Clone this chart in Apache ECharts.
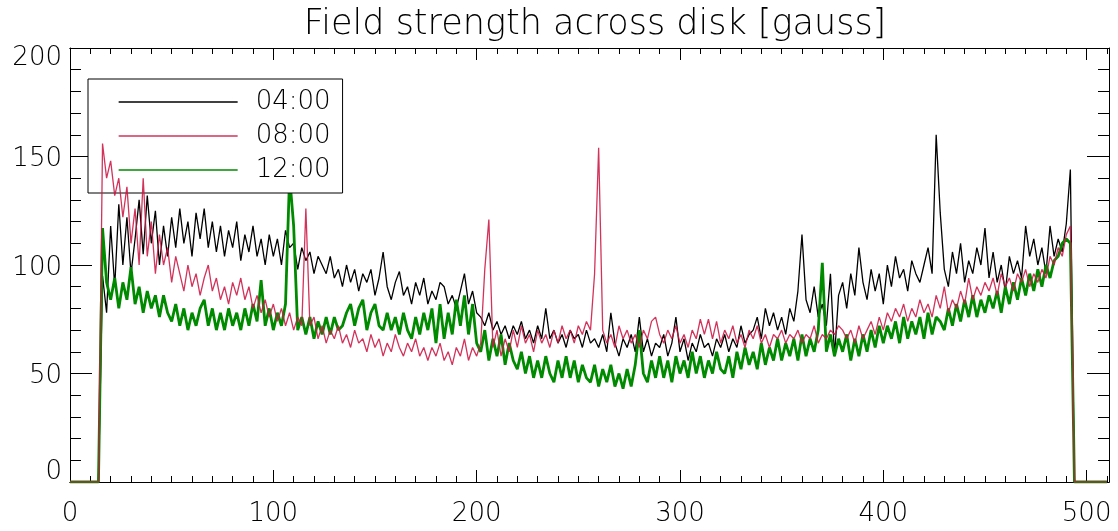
<!DOCTYPE html>
<html>
<head>
<meta charset="utf-8">
<script src="https://cdn.jsdelivr.net/npm/echarts@6/dist/echarts.min.js"></script>
<style>html,body{margin:0;padding:0;background:#fff;}#c{width:1118px;height:531px;}</style>
</head>
<body>
<div id="c"></div>
<script>
// x positions: pixel index, sampled every 2 units
const xStep = 2;
const seriesNames = ['04:00', '08:00', '12:00'];
const xTicks = [0, 100, 200, 300, 400, 500];
const yTicks = [0, 50, 100, 150, 200];

const black = [0,0,0,0,0,0,0,0,
95,78,118,90,128,100,122,96,112,130,
105,132,110,125,100,118,104,122,108,126,
110,120,104,124,112,126,108,120,106,118,
104,116,108,120,102,114,106,118,104,112,
100,114,104,112,100,116,108,110,98,108,
102,106,96,104,100,96,104,94,98,90,
100,92,98,88,96,92,98,86,94,106,
90,84,92,97,86,90,82,92,86,94,
82,88,84,92,90,82,86,80,88,96,
82,88,78,76,72,78,70,74,68,72,
66,72,68,74,66,70,64,72,66,80,
66,70,64,68,62,70,66,68,62,70,
64,66,62,68,60,78,64,58,66,62,
68,60,76,60,66,58,64,62,68,58,
64,76,60,66,56,64,60,68,62,64,
58,66,62,68,60,66,62,72,64,68,
70,76,66,80,72,78,70,76,68,80,
74,88,114,84,78,90,76,82,72,96,
58,86,92,80,96,86,108,92,84,98,
88,96,82,100,90,104,94,98,88,102,
96,92,100,108,96,160,124,98,90,106,
96,110,92,102,96,108,100,117,94,106,
92,100,88,104,96,102,94,118,104,112,
100,108,96,118,104,112,106,119,144,0,
0,0,0,0,0,0,0,0];

const red = [0,0,0,0,0,0,0,0,
156,140,148,132,140,122,136,110,126,100,
140,104,120,96,114,100,108,92,104,96,
88,100,90,96,86,94,100,88,94,84,
90,82,92,86,94,84,90,80,86,78,
84,76,82,74,80,72,78,70,76,72,
126,72,76,66,72,64,70,66,72,64,
68,62,70,64,66,60,68,62,66,58,
64,60,68,62,58,64,60,66,58,62,
56,62,58,64,56,60,54,62,58,66,
56,62,58,64,98,121,62,70,58,66,
60,70,62,72,64,68,60,70,64,68,
62,70,64,72,66,70,64,72,68,74,
70,96,154,70,64,68,62,72,66,70,
64,68,62,70,66,74,76,68,64,70,
66,72,64,68,62,70,66,75,68,75,
66,74,64,70,66,72,64,68,62,70,
66,72,64,68,62,68,66,70,64,68,
66,70,64,68,66,72,64,68,66,70,
68,72,70,66,70,64,72,66,70,74,
68,76,70,78,74,80,76,82,74,80,
76,84,78,82,76,86,80,90,78,84,
80,88,82,94,84,90,86,92,88,94,
86,96,90,94,88,96,92,98,90,96,
92,98,94,104,100,108,104,114,118,0,
0,0,0,0,0,0,0,0];

const green = [0,0,0,0,0,0,0,0,
117,92,84,94,80,92,84,99,82,90,
78,88,80,86,76,86,78,74,82,72,
80,70,78,72,80,84,72,80,70,78,
70,80,72,78,70,80,72,82,74,93,
72,80,70,78,72,82,141,118,70,76,
68,76,66,74,68,76,68,76,70,72,
78,82,72,80,84,70,78,82,72,70,
78,70,76,68,78,70,66,76,68,78,
70,80,64,82,66,78,68,84,72,86,
68,82,64,60,70,56,66,58,68,54,
64,56,52,60,50,58,48,56,48,58,
50,46,56,48,58,48,56,46,54,48,
46,54,44,52,46,54,44,50,43,52,
44,54,70,50,46,56,48,58,48,56,
46,58,50,56,48,60,50,58,48,56,
50,60,52,50,58,48,60,52,62,54,
60,52,64,54,62,56,66,56,64,58,
66,56,68,58,66,60,70,101,60,68,
58,66,60,68,56,66,58,68,60,70,
62,72,64,72,66,74,64,76,66,74,
68,76,66,78,68,76,74,70,80,72,
82,74,84,76,86,76,84,78,86,80,
88,78,90,82,92,84,94,86,96,88,
98,90,100,94,102,104,110,112,110,0,
0,0,0,0,0,0,0,0];

const FONT = 'DejaVu Sans';
const LBL = 26;
const toPairs = arr => arr.map((v, i) => [i * xStep, v]);

const chart = echarts.init(document.getElementById('c'), null, {renderer: 'canvas'});

function xAxisDef(pos, interval, tickLen, labels) {
  return {
    type: 'value', position: pos, min: 0, max: 511, interval: interval,
    axisLine: {show: true, onZero: false, lineStyle: {color: '#000', width: 1}},
    axisTick: {show: true, inside: true, length: tickLen, lineStyle: {color: '#000', width: 1}},
    axisLabel: labels ? {
      show: true, margin: 19, showMaxLabel: false,
      fontFamily: FONT, fontSize: LBL, fontWeight: 200, color: '#000',
      formatter: v => (xTicks.indexOf(v) >= 0 ? String(v) : '')
    } : {show: false},
    splitLine: {show: false}
  };
}

function yAxisDef(pos, labels) {
  const rs = {fontFamily: FONT, fontSize: LBL, fontWeight: 200, color: '#000'};
  return {
    type: 'value', position: pos, min: 0, max: 200, interval: 50,
    axisLine: {show: true, onZero: false, lineStyle: {color: '#000', width: 1}},
    axisTick: {show: true, inside: true, length: 22, lineStyle: {color: '#000', width: 1}},
    minorTick: {show: true, splitNumber: 5, length: 11, lineStyle: {color: '#000', width: 1}},
    axisLabel: labels ? {
      show: true, margin: 8,
      fontFamily: FONT, fontSize: LBL, fontWeight: 200, color: '#000',
      formatter: v => {
        if (yTicks.indexOf(v) < 0) return '';
        if (v === 200) return '{t|' + v + '}';
        if (v === 0) return '{b|' + v + '}';
        return '{m|' + v + '}';
      },
      rich: {
        t: Object.assign({padding: [20, 0, 0, 0]}, rs),
        b: Object.assign({padding: [0, 0, 20, 0]}, rs),
        m: Object.assign({padding: [6, 0, 0, 0]}, rs)
      }
    } : {show: false},
    splitLine: {show: false},
    minorSplitLine: {show: false}
  };
}

const option = {
  animation: false,
  backgroundColor: '#ffffff',
  title: {
    text: 'Field strength across disk [gauss]',
    left: 590, top: 2, textAlign: 'center',
    textStyle: {fontFamily: FONT, fontSize: 35, fontWeight: 200, color: '#000'}
  },
  grid: {left: 70, right: 9, top: 48, bottom: 49, containLabel: false},
  legend: {
    orient: 'vertical', left: 88, top: 79,
    data: seriesNames,
    itemWidth: 119, itemHeight: 24, itemGap: 8,
    padding: [10, 12, 10, 30],
    borderColor: '#000', borderWidth: 1, borderRadius: 0,
    backgroundColor: '#fff',
    selectedMode: false,
    itemStyle: {opacity: 0},
    lineStyle: {width: 1.3},
    textStyle: {fontFamily: FONT, fontSize: LBL, fontWeight: 200, color: '#000', lineHeight: 24, padding: [0, 0, 0, 13]}
  },
  xAxis: [
    xAxisDef('bottom', 100, 12, true),
    xAxisDef('bottom', 10, 6, false),
    xAxisDef('top', 100, 12, false),
    xAxisDef('top', 10, 6, false)
  ],
  yAxis: [yAxisDef('left', true), yAxisDef('right', false)],
  series: [
    {
      name: seriesNames[0], type: 'line', xAxisIndex: 0, yAxisIndex: 0,
      data: toPairs(black), symbol: 'none', showSymbol: false,
      lineStyle: {color: '#000000', width: 1.3}, itemStyle: {color: '#000000'},
      z: 2, silent: true
    },
    {
      name: seriesNames[2], type: 'line', xAxisIndex: 0, yAxisIndex: 0,
      data: toPairs(green), symbol: 'none', showSymbol: false,
      lineStyle: {color: '#008a00', width: 2.8}, itemStyle: {color: '#008a00'},
      z: 3, silent: true
    },
    {
      name: seriesNames[1], type: 'line', xAxisIndex: 0, yAxisIndex: 0,
      data: toPairs(red), symbol: 'none', showSymbol: false,
      lineStyle: {color: '#cc1744', width: 1.3, opacity: 0.88}, itemStyle: {color: '#cc1744'},
      z: 4, silent: true
    }
  ]
};
chart.setOption(option);
</script>
</body>
</html>
